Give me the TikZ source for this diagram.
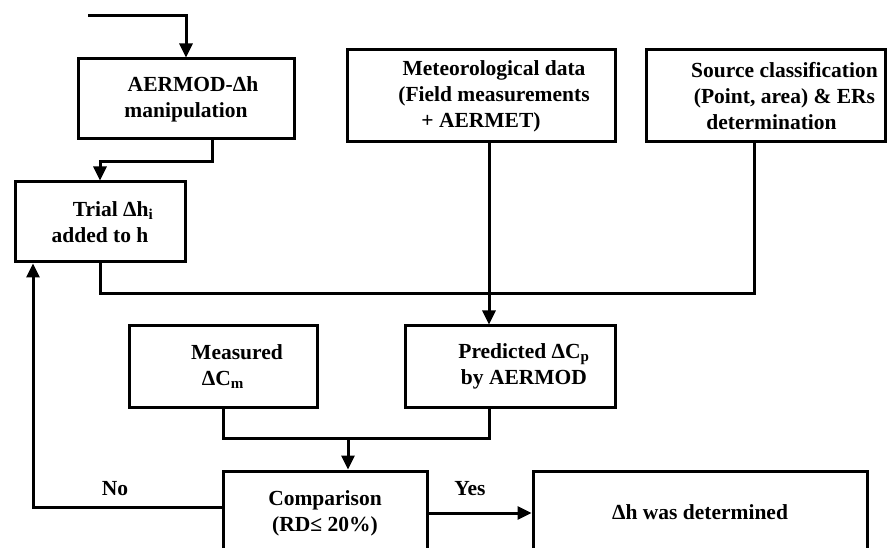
\documentclass[tikz,border=0pt]{standalone}
\usepackage{fontspec}
\setmainfont{Liberation Serif}
\usetikzlibrary{arrows.meta}

\begin{document}
\begin{tikzpicture}[x=1pt, y=-1pt,
    box/.style={draw, line width=3pt, align=center, inner sep=0pt, font=\fontsize{21.5}{26}\selectfont\bfseries},
    line/.style={line width=3pt},
    arr/.style={line width=3pt, -{Triangle[length=14pt, width=13pt]}},
    lbl/.style={font=\fontsize{21.5}{26}\selectfont\bfseries}]

    \useasboundingbox (0,0) rectangle (887,548);

    \node[box, minimum width=216pt, minimum height=80pt] (aermod) at (186,99) {\hspace*{14pt}AERMOD-Δh\\manipulation};
    \node[box, minimum width=170pt, minimum height=80pt] (trial) at (100,222) {\hspace*{26pt}Trial Δh\textsubscript{i}\\added to h};
    \node[box, minimum width=268pt, minimum height=92pt] (met) at (481,96) {\hspace*{26pt}Meteorological data\\\hspace*{26pt}(Field measurements\\+ AERMET)};
    \node[box, minimum width=239pt, minimum height=92pt] (source) at (765.5,96) {\hspace*{38pt}Source classification\\\hspace*{38pt}(Point, area) \& ERs\\\hspace*{12pt}determination};
    \node[box, minimum width=188pt, minimum height=81pt] (meas) at (223,366.5) {\hspace*{28pt}Measured\\ΔC\textsubscript{m}};
    \node[box, minimum width=210pt, minimum height=81pt] (pred) at (510,366.5) {\hspace*{28pt}Predicted ΔC\textsubscript{p}\\\hspace*{28pt}by AERMOD};
    \node[box, minimum width=204pt, minimum height=84pt] (comp) at (325,513) {Comparison\\(RD≤ 20\%)};
    \node[box, minimum width=334pt, minimum height=82pt] (res) at (700,512) {Δh was determined};

    \node[lbl] (no) at (115,489) {No};
    \node[lbl] (yes) at (470,489) {Yes};

    \coordinate (start) at (88,16);
    \coordinate (a1) at (212,162);
    \coordinate (j) at (489,294);
    \coordinate (s1) at (754,294);
    \coordinate (m1) at (489,438);
    \coordinate (m2) at (348,438);
    \coordinate (n1) at (33,507);

    \draw [arr] (start) -| (aermod);
    \draw [arr] (a1 |- aermod.south) -- (a1) -| (trial);
    \draw [line] (trial.south) |- (s1) -- (s1 |- source.south);
    \draw [arr] (j |- met.south) -- (j |- pred.north);
    \draw [line] (meas.south) |- (m1) -- (m1 |- pred.south);
    \draw [arr] (m2) -- (m2 |- comp.north);
    \draw [arr] (n1 -| comp.west) -- (n1) -- (n1 |- trial.south);
    \draw [arr] (comp.east) -- (comp.east -| res.west);

\end{tikzpicture}
\end{document}
